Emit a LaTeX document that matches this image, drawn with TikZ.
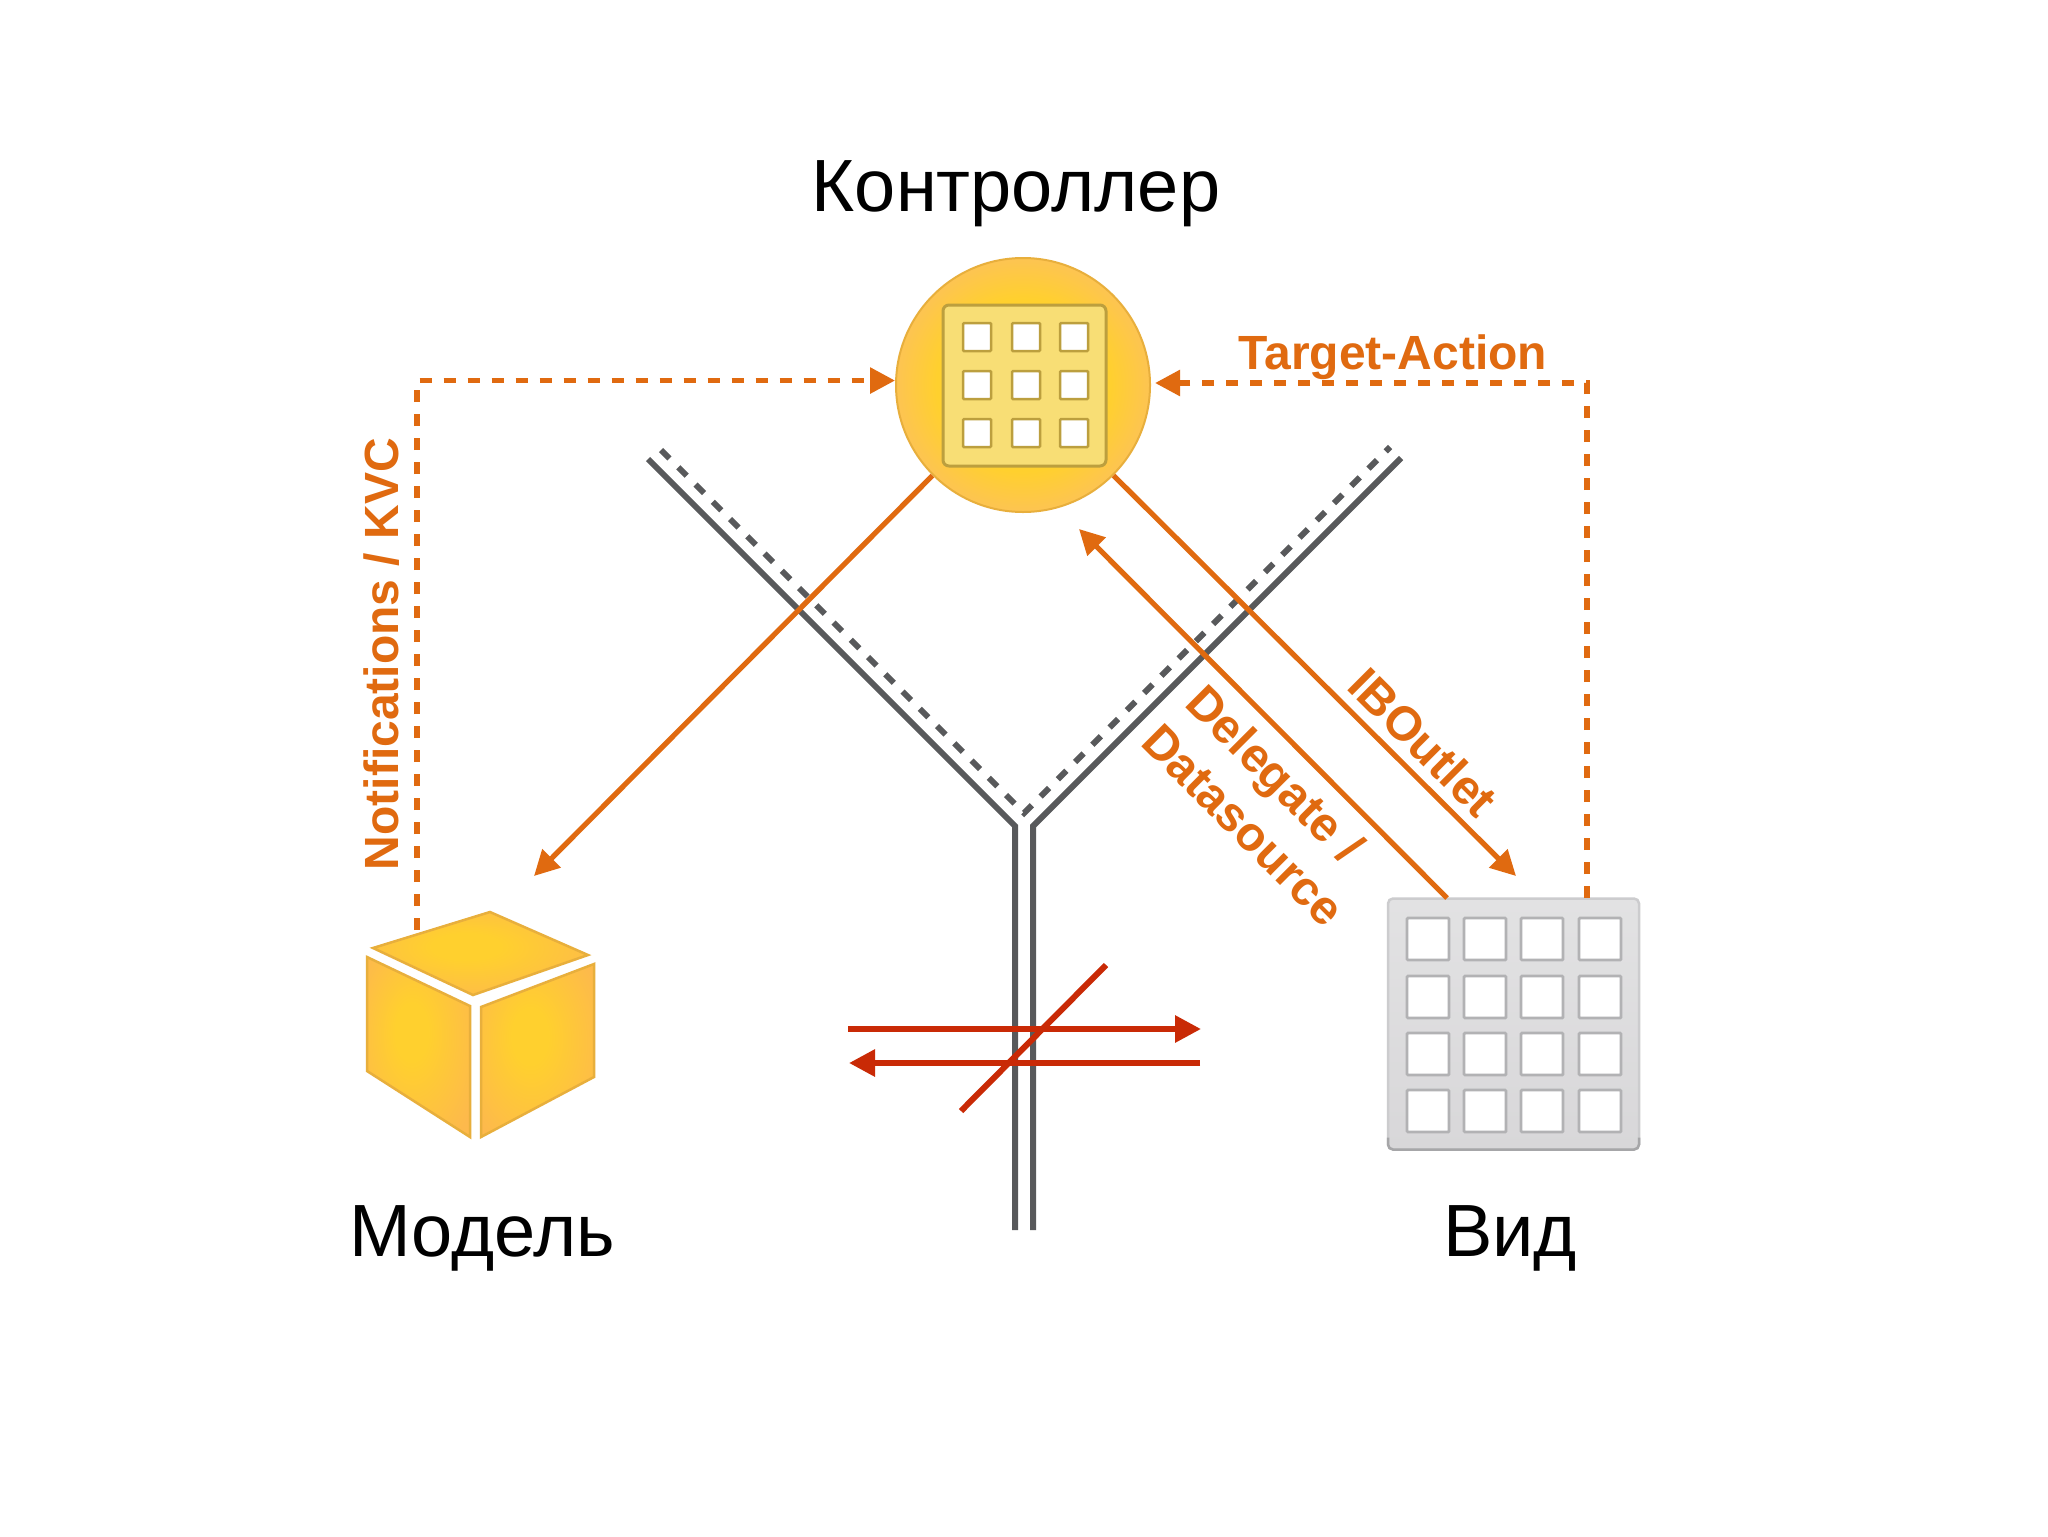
\documentclass[tikz,border=0pt]{standalone}
\usepackage{fontspec}
\setmainfont{Liberation Sans}
\usetikzlibrary{arrows.meta,calc}
\definecolor{org}{HTML}{E06A10}
\definecolor{redl}{HTML}{C92A06}
\definecolor{gry}{HTML}{58595B}
\definecolor{ylin}{HTML}{FFD02E}
\definecolor{ylout}{HTML}{FDC452}
\definecolor{ylcube}{HTML}{FDB94C}
\definecolor{ylln}{HTML}{E8AF3C}
\definecolor{pale}{HTML}{F8DE75}
\definecolor{paleln}{HTML}{BC9F3E}
\definecolor{vtop}{HTML}{E2E2E3}
\definecolor{vbot}{HTML}{D8D7D9}
\definecolor{vln}{HTML}{B2B2B4}
\definecolor{vedge}{HTML}{CCCCCE}
\definecolor{vedged}{HTML}{A6A6A8}
\pgfdeclareradialshading{ctrlglow}{\pgfpoint{0bp}{0bp}}{color(0bp)=(ylin); color(17bp)=(ylin); color(25bp)=(ylout); color(50bp)=(ylout)}
\pgfdeclareradialshading{cubeglow}{\pgfpoint{-4bp}{5bp}}{color(0bp)=(ylin); color(8bp)=(ylin); color(33bp)=(ylcube); color(50bp)=(ylcube)}
\tikzset{
  title/.style={font=\fontsize{37}{37}\selectfont,text=black,inner sep=0pt},
  lab/.style={font=\fontsize{24}{24}\selectfont\bfseries,text=org,inner sep=0pt},
  solidor/.style={draw=org,line width=2.6pt,-{Triangle[length=12.5pt,width=12.5pt]}},
  dashor/.style={draw=org,line width=2.8pt,dash pattern=on 6pt off 6pt,-{Triangle[length=12.5pt,width=12.5pt]}},
  wire/.style={draw=gry,line width=3pt},
  dwire/.style={draw=gry,line width=3pt,dash pattern=on 6pt off 6.2pt},
  redar/.style={draw=redl,line width=3pt,-{Triangle[length=13pt,width=13pt]}},
  redln/.style={draw=redl,line width=3pt},
  face/.style={draw=ylln,line width=1.25pt,shade,shading=cubeglow},
  cell/.style={draw=paleln,line width=1.25pt,fill=white,rounded corners=0.5pt},
  vcell/.style={draw=vln,line width=1.4pt,fill=white,rounded corners=0.5pt},
}
\begin{document}
\begin{tikzpicture}[x=0.5pt,y=-0.5pt]
\useasboundingbox[fill=white] (0,0) rectangle (2048,1536);
% Y channel
\coordinate (yl0) at (648,459);
\coordinate (yl1) at (1015,826);
\coordinate (yl2) at (1015,1230);
\coordinate (yr0) at (1401,458);
\coordinate (yr1) at (1033,826);
\coordinate (yr2) at (1033,1230);
\coordinate (yd0) at (661,450);
\coordinate (yd1) at (1024,813);
\coordinate (yd2) at (1390,447);
\draw[wire] (yl0) -- (yl1) -- (yl2);
\draw[wire] (yr0) -- (yr1) -- (yr2);
\draw[dwire] (yd0) -- (yd1) -- (yd2);
% Controller
\node[circle,minimum size=127pt,inner sep=0pt,draw=ylln,line width=1pt,shade,shading=ctrlglow] (ctrl) at (1023,385) {};
\draw[draw=paleln,line width=1.5pt,fill=pale,rounded corners=3pt] (943,305) rectangle (1106,466);
\foreach \x in {963,1012,1060}
  \foreach \y in {323,371,419}
    \draw[cell] (\x,\y) rectangle ++(28,28);
% Model cube
\coordinate (mtop) at (417,930);
\path[face] (373,948) -- (490,912) -- (588,955) -- (473,995) -- cycle;
\path[face] (367,957) -- (470,1006) -- (470,1137) -- (367,1071) -- cycle;
\path[face] (481,1007) -- (594,964) -- (594,1077) -- (481,1137) -- cycle;
% View
\node[rectangle,minimum size=125.5pt,inner sep=0pt,outer sep=0pt,draw=vedge,line width=1.25pt,top color=vtop,bottom color=vbot,rounded corners=2.5pt] (view) at (1513.5,1024) {};
\draw[vedged,line width=1.25pt,rounded corners=2.5pt] ($(view.south west)+(0,-12)$) |- (view.south) -| ($(view.south east)+(0,-12)$);
\foreach \x in {1407,1464,1521,1579}
  \foreach \y in {918,976,1033,1090}
    \draw[vcell] (\x,\y) rectangle ++(42,42);
% Connectors
\coordinate (mhead) at (534,876);
\coordinate (vhead) at (1516,876);
\coordinate (dhead) at (1079,529);
\coordinate (dtail) at (1447,898);
\coordinate (ttail) at (1587,898);
\coordinate (thead) at (1155,383);
\draw[solidor] (ctrl.225) -- (mhead);
\draw[solidor] (ctrl.-45) -- (vhead);
\draw[solidor] (dtail) -- (dhead);
\draw[dashor] (mtop) |- (ctrl.178);
\draw[dashor] (ttail) |- (thead);
% Red
\coordinate (ra0) at (848,1029);
\coordinate (ra1) at (1201,1029);
\coordinate (rb0) at (1200,1063);
\coordinate (rb1) at (849,1063);
\coordinate (rc0) at (1106,965);
\coordinate (rc1) at (961,1111);
\draw[redar] (ra0) -- (ra1);
\draw[redar] (rb0) -- (rb1);
\draw[redln] (rc0) -- (rc1);
% Labels
\node[title,anchor=base] (tctrl) at (1016,211) {Контроллер};
\node[title,anchor=base] (tmodel) at (482,1256) {Модель};
\node[title,anchor=base] (tview) at (1510,1256) {Вид};
\node[lab,anchor=base] (lta) at (1393,369) {Target-Action};
\node[lab,anchor=base,rotate=90] (lnot) at (398,654) {Notifications / KVC};
\node[lab,anchor=base west,rotate=-45] (lib) at (1345,688) {IBOutlet};
\node[lab,anchor=base west,rotate=-45] (ldel) at (1183,705) {Delegate /};
\node[lab,anchor=base west,rotate=-45] (ldat) at (1139,744) {Datasource};
\end{tikzpicture}
\end{document}
